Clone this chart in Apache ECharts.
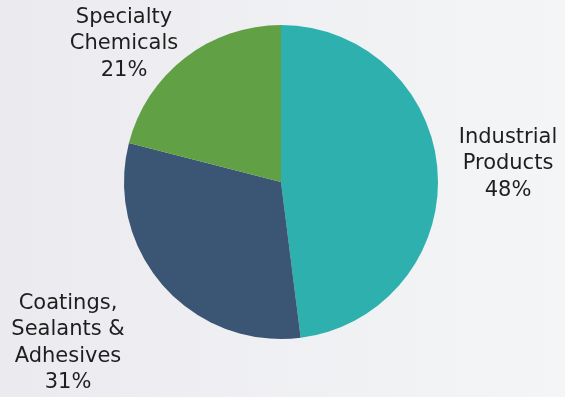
<!DOCTYPE html>
<html>
<head>
<meta charset="utf-8">
<script src="https://cdn.jsdelivr.net/npm/echarts@6/dist/echarts.min.js"></script>
<style>
  html, body { margin: 0; padding: 0; }
  #chart { width: 565px; height: 397px; }
</style>
</head>
<body>
<div id="chart"></div>
<script>
const categories = ['Industrial\nProducts', 'Coatings,\nSealants &\nAdhesives', 'Specialty\nChemicals'];
const shares = [48, 31, 21];
const colors = ['#2eb0ae', '#3b5574', '#62a046'];

// where each label block sits (centre of the text)
const labelSpots = [[508, 164], [68, 343], [124, 44]];

const chart = echarts.init(document.getElementById('chart'));
chart.setOption({
    animation: false,
    backgroundColor: {
        type: 'linear', x: 0, y: 0, x2: 1, y2: 0,
        colorStops: [{ offset: 0, color: '#ebebef' }, { offset: 1, color: '#f4f5f7' }]
    },
    series: [{
        type: 'pie',
        center: [281, 182],
        radius: 157,
        startAngle: 90,
        clockwise: true,
        avoidLabelOverlap: false,
        itemStyle: { borderWidth: 0 },
        label: {
            show: true,
            position: 'outside',
            formatter: p => p.name + '\n' + p.value + '%',
            fontFamily: 'DejaVu Sans',
            fontSize: 21,
            lineHeight: 26.5,
            color: '#1e1e1e',
            align: 'center',
            overflow: 'none',
            width: 200
        },
        labelLine: { show: false },
        labelLayout: p => ({
            x: labelSpots[p.dataIndex][0],
            y: labelSpots[p.dataIndex][1],
            align: 'center',
            verticalAlign: 'middle'
        }),
        data: categories.map((c, i) => ({
            name: c,
            value: shares[i],
            itemStyle: { color: colors[i] }
        }))
    }]
});
</script>
</body>
</html>
